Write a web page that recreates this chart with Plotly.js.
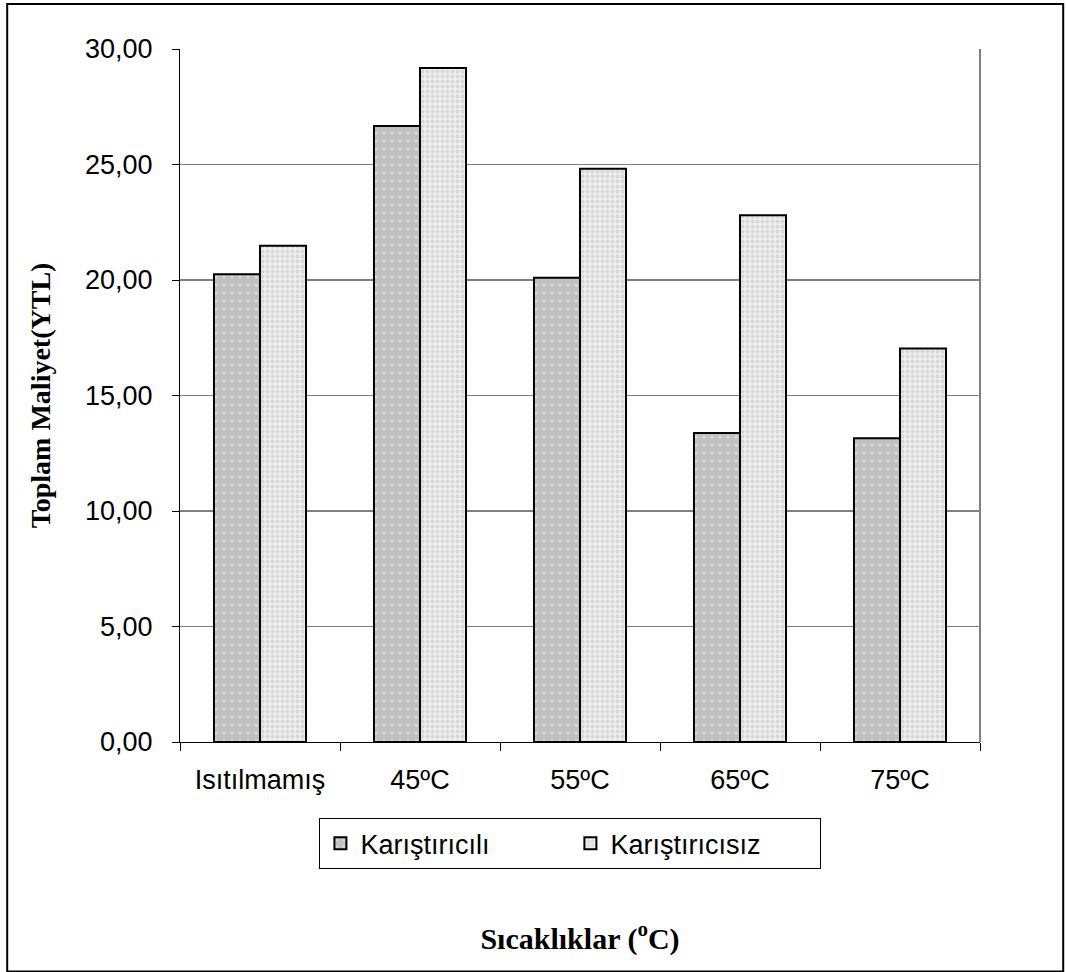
<!DOCTYPE html>
<html>
<head>
<meta charset="utf-8">
<script src="https://cdn.plot.ly/plotly-3.0.1.min.js"></script>
<style>html,body{margin:0;padding:0;background:#fff;}#chart{width:1066px;height:972px;}</style>
</head>
<body>
<div id="chart"></div>
<script>
const categories = ["Isıtılmamış", "45ºC", "55ºC", "65ºC", "75ºC"];
const seriesNames = ["Karıştırıcılı", "Karıştırıcısız"];
const karistiricili = [20.25, 26.67, 20.10, 13.38, 13.15];
const karistiricisiz = [21.48, 29.18, 24.82, 22.80, 17.03];
const yTickVals = [0, 5, 10, 15, 20, 25, 30];

const sansFont = "Arial, Liberation Sans, sans-serif";
const serifFont = "Times New Roman, Liberation Serif, serif";

const traces = [
  {
    type: "bar", name: seriesNames[0], x: categories, y: karistiricili,
    marker: {
      color: "#c2c2c2",
      line: {color: "#000", width: 2},
      pattern: {shape: ".", fgcolor: "#ffffff", bgcolor: "#c0c0c0", size: 8, solidity: 0.12, fillmode: "overlay"}
    }
  },
  {
    type: "bar", name: seriesNames[1], x: categories, y: karistiricisiz,
    marker: {
      color: "#e4e4e4",
      line: {color: "#000", width: 2},
      pattern: {shape: ".", fgcolor: "#c2c2c2", bgcolor: "#eeeeee", size: 5, solidity: 0.5, fillmode: "overlay"}
    }
  }
];

const layout = {
  width: 1066, height: 972,
  paper_bgcolor: "#fff", plot_bgcolor: "#fff",
  margin: {l: 180, r: 86, t: 49, b: 230, pad: 0},
  separators: ",.",
  barmode: "group", bargap: 0.425, bargroupgap: 0,
  showlegend: true,
  legend: {
    orientation: "h", x: 0.488, xanchor: "center", y: -0.11, yanchor: "top",
    font: {family: sansFont, size: 27, color: "#000"},
    bordercolor: "#000", borderwidth: 1, bgcolor: "#fff",
    itemwidth: 30, entrywidth: 205, traceorder: "normal"
  },
  xaxis: {
    type: "category",
    showline: true, linecolor: "#000", linewidth: 1,
    ticks: "outside", tickson: "boundaries", ticklen: 8, tickcolor: "#000",
    ticklabelstandoff: 14,
    tickfont: {family: sansFont, size: 27, color: "#000"},
    showgrid: false, zeroline: false,
    title: {text: "Sıcaklıklar (<sup>o</sup>C)", font: {family: serifFont, size: 30, color: "#000", weight: "bold"}, standoff: 133}
  },
  yaxis: {
    range: [0, 30], tickvals: yTickVals, tickformat: ".2f",
    showline: true, linecolor: "#000", linewidth: 1,
    ticks: "outside", ticklen: 7, tickcolor: "#000",
    ticklabelstandoff: 14,
    tickfont: {family: sansFont, size: 27, color: "#000"},
    showgrid: true, gridcolor: "#808080", gridwidth: 1.5, zeroline: false,
    title: {text: "Toplam Maliyet(YTL)", font: {family: serifFont, size: 28, color: "#000", weight: "bold"}, standoff: 26}
  },
  shapes: [
    {type: "line", xref: "paper", yref: "paper", x0: 1, x1: 1, y0: 0, y1: 1, line: {color: "#808080", width: 2}},
    {type: "rect", xref: "paper", yref: "paper", x0: -0.216, x1: 1.104, y0: -0.331, y1: 1.065, line: {color: "#000", width: 2}}
  ]
};

Plotly.newPlot("chart", traces, layout, {displayModeBar: false, staticPlot: true});
</script>
</body>
</html>
